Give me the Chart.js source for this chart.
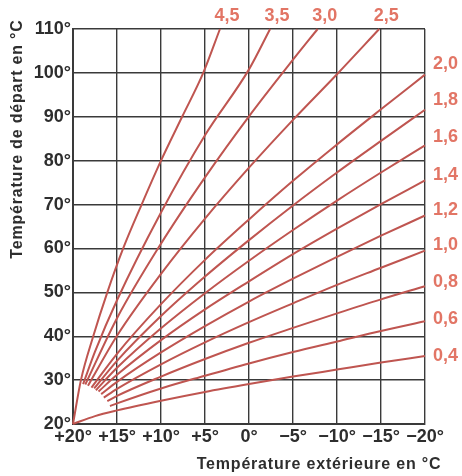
<!DOCTYPE html>
<html>
<head>
<meta charset="utf-8">
<script src="https://cdn.jsdelivr.net/npm/chart.js@4"></script>
<style>
  body { margin: 0; background: #fff; }
  canvas { display: block; }
</style>
</head>
<body>
<canvas id="curves" width="462" height="476"></canvas>
<script>
// heating curves: [outside temp, flow temp]
const line04 = [[20, 20], [17.5, 21.8], [15, 23.1], [10, 25.3], [5, 27.3], [0, 29.1], [-5, 30.8], [-10, 32.4], [-15, 34.0], [-20, 35.5]];
const line06 = [[15.8, 24.1], [15, 24.7], [10, 28.1], [5, 31.0], [0, 33.8], [-5, 36.4], [-10, 38.8], [-15, 41.2], [-20, 43.4]];
const line08 = [[16.1, 25.2], [15, 26.4], [10, 30.8], [5, 34.8], [0, 38.5], [-5, 41.9], [-10, 45.2], [-15, 48.4], [-20, 51.4]];
const line10 = [[16.5, 26.0], [15, 28.0], [10, 33.6], [5, 38.6], [0, 43.2], [-5, 47.5], [-10, 51.7], [-15, 55.6], [-20, 59.5]];
const line12 = [[16.8, 26.8], [15, 29.6], [10, 36.3], [5, 42.3], [0, 47.9], [-5, 53.1], [-10, 58.1], [-15, 62.9], [-20, 67.5]];
const line14 = [[17.1, 27.4], [15, 31.2], [10, 39.1], [5, 46.1], [0, 52.5], [-5, 58.7], [-10, 64.5], [-15, 70.1], [-20, 75.5]];
const line16 = [[17.4, 27.7], [15, 32.8], [10, 41.8], [5, 49.8], [0, 57.2], [-5, 64.2], [-10, 70.9], [-15, 77.3], [-20, 83.5]];
const line18 = [[17.6, 28.1], [15, 34.4], [10, 44.6], [5, 53.6], [0, 61.9], [-5, 69.8], [-10, 77.3], [-15, 84.5], [-20, 91.6]];
const line20 = [[17.9, 28.3], [15, 36.0], [10, 47.3], [5, 57.4], [0, 66.6], [-5, 75.4], [-10, 83.7], [-15, 91.7], [-20, 99.6]];
const line25 = [[18.3, 28.7], [15, 40.1], [10, 54.2], [5, 66.8], [0, 78.4], [-5, 89.3], [-10, 99.7], [-14.8, 110]];
const line30 = [[18.6, 29.0], [15, 44.1], [10, 61.1], [5, 76.2], [0, 90.1], [-5, 103.0], [-7.8, 110]];
const line35 = [[18.85, 29.1], [17.5, 36.5], [15, 48.2], [10, 68.2], [5, 85.8], [0, 100.8], [-2.4, 110]];
const line45 = [[20, 20], [19.1, 30], [17.7, 40], [16.1, 50], [14.3, 60], [12.2, 70], [10.0, 80], [7.6, 90], [5.2, 100], [3.3, 110]];

const curves = [line04, line06, line08, line10, line12, line14, line16, line18, line20, line25, line30, line35, line45];
const slopeLabels = ['0,4', '0,6', '0,8', '1,0', '1,2', '1,4', '1,6', '1,8', '2,0', '2,5', '3,0', '3,5', '4,5'];

const xTitle = 'Température extérieure en °C';
const yTitle = 'Température de départ en °C';

const lineColor = '#bf5550';
const labelColor = '#e27565';
const gridColor = '#3a3a3a';
const textColor = '#2e2e2e';
const font = '"Liberation Sans", Arial, sans-serif';

// how far above its curve end each right-hand label sits
const rightLabelLift = [0, 2, 4, 6, 5, 5, 8, 10, 11];

function degLabel(v) {
  if (v > 0) return '+' + v + '°';
  if (v < 0) return '\u2212' + Math.abs(v) + '°';
  return '0°';
}

const labelsPlugin = {
  id: 'labels',
  afterDraw(chart) {
    const ctx = chart.ctx;
    const area = chart.chartArea;
    const xs = chart.scales.x;
    const ys = chart.scales.y;
    ctx.save();
    ctx.fillStyle = textColor;
    ctx.font = 'bold 18px ' + font;
    ctx.textBaseline = 'middle';

    ctx.textAlign = 'right';
    ys.ticks.forEach(t => {
      ctx.fillText(t.value + '°', area.left - 2, ys.getPixelForValue(t.value));
    });

    ctx.textAlign = 'center';
    xs.ticks.forEach(t => {
      ctx.fillText(degLabel(t.value), xs.getPixelForValue(t.value), area.bottom + 13);
    });

    // axis titles
    ctx.font = 'bold 16px ' + font;
    ctx.letterSpacing = '0.8px';
    ctx.textAlign = 'center';
    ctx.fillText(xTitle, 319, 465);
    ctx.save();
    ctx.translate(18, 139);
    ctx.rotate(-Math.PI / 2);
    ctx.fillText(yTitle, 0, 0);
    ctx.restore();
    ctx.letterSpacing = '0px';

    // slope labels
    ctx.fillStyle = labelColor;
    ctx.font = 'bold 18px ' + font;
    chart.data.datasets.forEach((ds, i) => {
      const pts = chart.getDatasetMeta(i).data;
      const end = pts[pts.length - 1];
      if (ds.data[ds.data.length - 1].y >= 110) {
        ctx.textAlign = 'center';
        ctx.fillText(ds.label, end.x + 7, area.top - 13);
      } else {
        ctx.textAlign = 'left';
        ctx.fillText(ds.label, area.right + 8, end.y - rightLabelLift[i]);
      }
    });
    ctx.restore();
  }
};

new Chart(document.getElementById('curves'), {
  type: 'scatter',
  data: {
    datasets: curves.map((pts, i) => ({
      label: slopeLabels[i],
      data: pts.map(p => ({ x: p[0], y: p[1] })),
      showLine: true,
      borderColor: lineColor,
      borderWidth: 2,
      pointRadius: 0,
      cubicInterpolationMode: 'monotone',
      clip: false
    }))
  },
  options: {
    responsive: false,
    animation: false,
    layout: { padding: { left: 73, top: 29, right: 37, bottom: 52 } },
    plugins: { legend: { display: false }, tooltip: { enabled: false } },
    scales: {
      x: {
        type: 'linear',
        reverse: true,
        min: -20,
        max: 20,
        ticks: { stepSize: 5, display: false },
        grid: { color: gridColor, lineWidth: 1.4, drawTicks: false },
        border: { color: gridColor, width: 2 }
      },
      y: {
        min: 20,
        max: 110,
        ticks: { stepSize: 10, display: false },
        grid: { color: gridColor, lineWidth: 1.4, drawTicks: false },
        border: { color: gridColor, width: 2 }
      }
    }
  },
  plugins: [labelsPlugin]
});
</script>
</body>
</html>
